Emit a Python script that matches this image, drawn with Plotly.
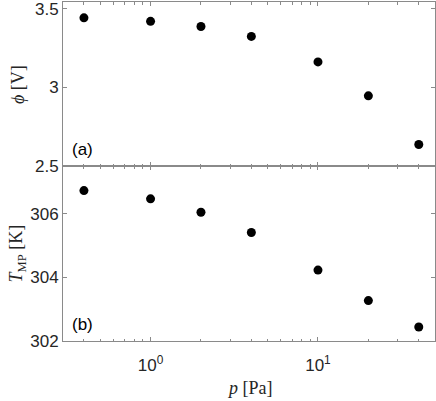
import plotly.graph_objects as go
from plotly.subplots import make_subplots

# pressure values (Pa)
p = [0.4, 1, 2, 4, 10, 20, 40]
# panel (a): potential
phi = [3.443, 3.421, 3.388, 3.325, 3.163, 2.947, 2.637]
# panel (b): temperature
t_mp = [306.73, 306.47, 306.05, 305.41, 304.23, 303.27, 302.44]

x_ticks = [1, 10]
x_ticktext = ["10<sup>0</sup>", "10<sup>1</sup>"]
x_minor = [0.3, 0.4, 0.5, 0.6, 0.7, 0.8, 0.9, 2, 3, 4, 5, 6, 7, 8, 9, 20, 30, 40, 50]
phi_ticks = [2.5, 3, 3.5]
phi_ticktext = ["2.5", "3", "3.5"]
t_ticks = [302, 304, 306]

frame = "#8a8a8a"
sans = "Liberation Sans, Arial, sans-serif"
serif = "Liberation Serif, DejaVu Serif, serif"
txt = "#262626"

fig = make_subplots(rows=2, cols=1, shared_xaxes=True, vertical_spacing=0)

fig.add_trace(go.Scatter(x=p, y=phi, mode="markers",
                         marker=dict(color="black", size=9)), row=1, col=1)
fig.add_trace(go.Scatter(x=p, y=t_mp, mode="markers",
                         marker=dict(color="black", size=9)), row=2, col=1)

axis_common = dict(showline=True, linecolor=frame, linewidth=1, mirror="ticks",
                   ticks="inside", tickcolor=frame, ticklen=4, showgrid=False,
                   zeroline=False, automargin=False, ticklabeloverflow="allow",
                   tickfont=dict(family=sans, size=17, color=txt))

fig.update_xaxes(type="log", range=[-0.523, 1.699], tickvals=x_ticks, ticktext=x_ticktext,
                 minor=dict(tickvals=x_minor, ticks="inside", ticklen=2.5, tickcolor=frame),
                 **axis_common)
fig.update_xaxes(showticklabels=False, row=1, col=1)
fig.update_xaxes(ticklabelstandoff=9, row=2, col=1)

fig.update_yaxes(range=[2.5, 3.544], tickvals=phi_ticks, ticktext=phi_ticktext,
                 row=1, col=1, **axis_common)
fig.update_yaxes(range=[302, 307.5], tickvals=t_ticks,
                 row=2, col=1, **axis_common)

fig.update_layout(
    width=436, height=401,
    margin=dict(l=63, r=1, t=2, b=60),
    plot_bgcolor="white", paper_bgcolor="white",
    showlegend=False,
    yaxis=dict(domain=[0.516, 1]),
    yaxis2=dict(domain=[0, 0.516]),
)

# axis titles
fig.add_annotation(text="<i>p</i> [Pa]", xref="paper", yref="paper", x=0.503, y=-0.14,
                   xanchor="center", yanchor="middle", showarrow=False,
                   font=dict(family=serif, size=18, color=txt))
fig.add_annotation(text="<i>ϕ</i> [V]", xref="paper", yref="paper", x=-0.121, y=0.758,
                   xanchor="center", yanchor="middle", textangle=-90, showarrow=False,
                   font=dict(family=serif, size=18, color=txt))
fig.add_annotation(text="<i>T</i><sub>MP</sub> [K]", xref="paper", yref="paper", x=-0.121, y=0.258,
                   xanchor="center", yanchor="middle", textangle=-90, showarrow=False,
                   font=dict(family=serif, size=18, color=txt))

fig.add_annotation(text="(a)", xref="x domain", yref="y domain", x=0.02, y=0.03,
                   xanchor="left", yanchor="bottom", showarrow=False,
                   font=dict(family=sans, size=17, color="black"))
fig.add_annotation(text="(b)", xref="x2 domain", yref="y2 domain", x=0.02, y=0.03,
                   xanchor="left", yanchor="bottom", showarrow=False,
                   font=dict(family=sans, size=17, color="black"))

fig.write_html("out.html", config={"displayModeBar": False},
               post_script="document.body.style.margin = '0';")
